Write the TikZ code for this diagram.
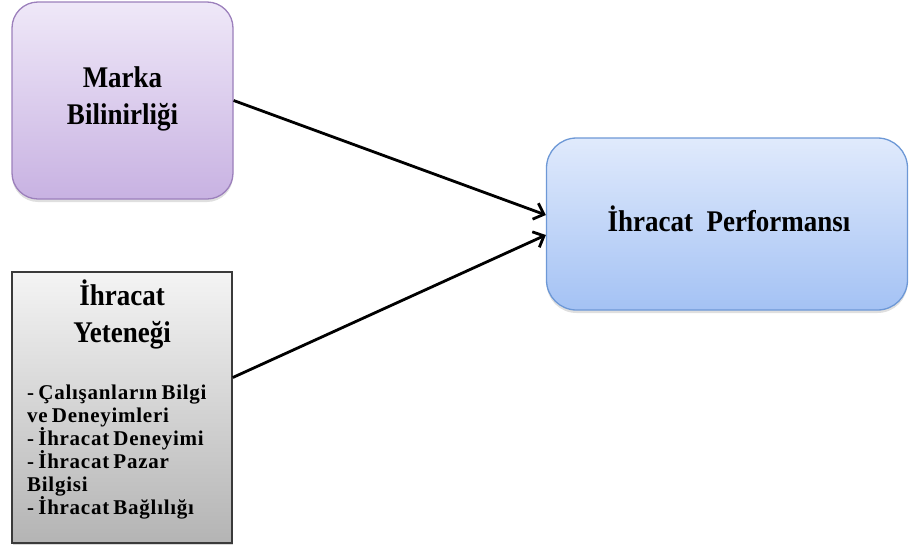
\documentclass[tikz,border=0pt]{standalone}
\usepackage{fontspec}
\setmainfont{Liberation Serif}
\newfontfamily\narrowserif[FakeStretch=0.9]{Liberation Serif}
\newfontfamily\listserif[LetterSpace=3.5]{Liberation Serif}
\newcommand\tightspaces{\spaceskip=0.2em plus 0.05em\relax}
\usetikzlibrary{arrows.meta,shadows}

\definecolor{purpleTop}{HTML}{EFE8F8}
\definecolor{purpleBot}{HTML}{C8B2E2}
\definecolor{purpleLine}{HTML}{9C80BC}
\definecolor{blueTop}{HTML}{E0EAFC}
\definecolor{blueBot}{HTML}{A4C2F4}
\definecolor{blueLine}{HTML}{6D98D6}
\definecolor{grayTop}{HTML}{F4F4F4}
\definecolor{grayBot}{HTML}{B4B4B4}
\definecolor{grayLine}{HTML}{3A3A3A}

\tikzset{
  factorbox/.style={draw, line width=1.3pt, rounded corners=26pt, inner sep=0pt,
    drop shadow={shadow xshift=0pt, shadow yshift=-3pt, opacity=0.25}},
  capbox/.style={draw=grayLine, line width=1.6pt, inner sep=0pt,
    top color=grayTop, bottom color=grayBot,
    drop shadow={shadow xshift=1pt, shadow yshift=-2pt, opacity=0.3}},
  heading/.style={font=\narrowserif\fontsize{30}{37}\selectfont\bfseries, align=center, text=black},
  itemlist/.style={font=\listserif\fontsize{21}{23}\selectfont\bfseries\tightspaces, align=left, text=black, inner sep=0pt},
  link/.style={line width=2.8pt, -{Straight Barb[length=9pt,width=17pt,line width=2.8pt]}}
}

\begin{document}
\begin{tikzpicture}[x=1pt, y=-1pt]
  \useasboundingbox (0,0) rectangle (909,549);

  % Brand awareness
  \node[factorbox, draw=purpleLine, top color=purpleTop, bottom color=purpleBot,
        minimum width=221pt, minimum height=197pt] (marka) at (122.5,100.5) {};
  \node[heading] (markatxt) at (122.5,99) {Marka\\Bilinirliği};

  % Export performance
  \node[factorbox, draw=blueLine, top color=blueTop, bottom color=blueBot,
        rounded corners=30pt, minimum width=361pt, minimum height=172pt] (perf) at (727,224) {};
  \node[heading] (perftxt) at (729,219) {İhracat\ \ Performansı};

  % Export capability
  \node[capbox, minimum width=220pt, minimum height=271pt] (yet) at (122,407.5) {};
  \node[heading] (yettxt) at (122,314) {İhracat\\Yeteneği};
  \node[itemlist, anchor=north west] (yetlist) at (27,385)
    {- Çalışanların Bilgi\\ve Deneyimleri\\- İhracat Deneyimi\\- İhracat Pazar\\Bilgisi\\- İhracat Bağlılığı};

  % Links
  \draw[link] (marka.east) -- ([yshift=9pt]perf.west);
  \draw[link] ([yshift=30pt]yet.east) -- ([yshift=-11pt]perf.west);
\end{tikzpicture}
\end{document}
